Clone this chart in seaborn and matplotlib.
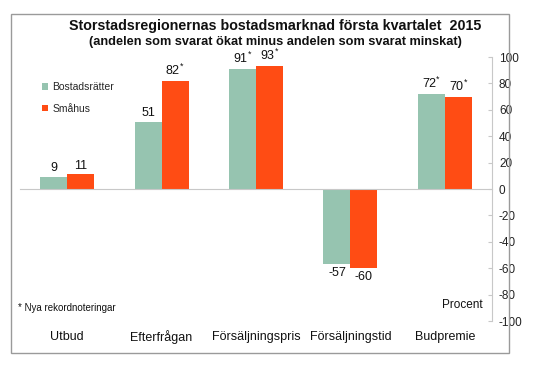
import matplotlib
matplotlib.use("Agg")
import matplotlib.pyplot as plt
import matplotlib.transforms as mtransforms
from matplotlib.patches import Rectangle
import seaborn as sns
import pandas as pd

categories = ["Utbud", "Efterfrågan", "Försäljningspris", "Försäljningstid", "Budpremie"]
series_names = ["Bostadsrätter", "Småhus"]
bostadsratter = [9, 51, 91, -57, 72]
smahus = [11, 82, 93, -60, 70]
bostadsratter_record = [False, False, True, False, True]
smahus_record = [False, True, True, False, True]
yticks = [-100, -80, -60, -40, -20, 0, 20, 40, 60, 80, 100]

colors = {"Bostadsrätter": "#96C4B0", "Småhus": "#FF4C14"}

sns.set_theme(style="white")
plt.rcParams["font.family"] = ["Liberation Sans", "DejaVu Sans"]
plt.rcParams["mathtext.fontset"] = "custom"
plt.rcParams["mathtext.rm"] = "Liberation Sans"

df = pd.DataFrame({
    "Kategori": categories * 2,
    "Serie": [series_names[0]] * len(categories) + [series_names[1]] * len(categories),
    "Värde": bostadsratter + smahus,
})

fig = plt.figure(figsize=(5.45, 3.65), dpi=100)
ax = fig.add_axes([20 / 545, 1 - 321 / 365, 472 / 545, 264 / 365])

sns.barplot(data=df, x="Kategori", y="Värde", hue="Serie", order=categories,
            hue_order=series_names, palette=colors, width=0.57, gap=0,
            saturation=1, linewidth=0, ax=ax, legend=True)

ax.set_xlim(-0.5, len(categories) - 0.5)
ax.set_ylim(-100, 100)
ax.set_xlabel("")
ax.set_ylabel("")

# spines
for s in ["top", "left"]:
    ax.spines[s].set_visible(False)
ax.spines["right"].set_visible(True)
ax.spines["right"].set_color("#C8C8C8")
ax.spines["right"].set_linewidth(0.8)
ax.spines["bottom"].set_position(("data", 0))
ax.spines["bottom"].set_color("#C8C8C8")
ax.spines["bottom"].set_linewidth(0.8)

# y axis on right
ax.yaxis.tick_right()
ax.set_yticks(yticks)
ax.set_yticklabels([str(v) for v in yticks])
ax.tick_params(axis="y", direction="in", length=3, width=0.8, color="#C8C8C8",
               pad=5, labelsize=8.5, labelcolor="#222222")

# x ticks at category boundaries
bounds = [i - 0.5 for i in range(len(categories) + 1)]
ax.set_xticks(bounds)
ax.set_xticklabels([""] * len(bounds))
ax.tick_params(axis="x", direction="inout", length=6, width=0.8, color="#C8C8C8")

# category labels below plot
trans = mtransforms.blended_transform_factory(ax.transData, ax.transAxes)
for i, c in enumerate(categories):
    ax.text(i, -0.062, c, transform=trans, ha="center", va="center",
            fontsize=9, color="#111111")

# value labels
def fmt(v, rec):
    return f"{v}" + (r"$^{\mathrm{*}}$" if rec else "")

containers = ax.containers
for cont, vals, recs in zip(containers, [bostadsratter, smahus],
                            [bostadsratter_record, smahus_record]):
    ax.bar_label(cont, labels=[fmt(v, r) for v, r in zip(vals, recs)],
                 padding=2, fontsize=9, color="#111111")

# legend
leg = ax.legend(loc="upper left", bbox_to_anchor=(38 / 545, 1 - 78 / 365),
                bbox_transform=fig.transFigure, frameon=False, fontsize=7.5,
                handlelength=0.6, handleheight=0.6, handletextpad=0.4,
                labelspacing=1.1, borderaxespad=0)

# titles
fig.text(0.505, 1 - 26 / 365, "Storstadsregionernas bostadsmarknad första kvartalet  2015",
         ha="center", va="center", fontsize=10.3, fontweight="bold", color="#111111")
fig.text(0.505, 1 - 42 / 365, "(andelen som svarat ökat minus andelen som svarat minskat)",
         ha="center", va="center", fontsize=9.2, fontweight="bold", color="#111111")

# footnote and unit
fig.text(18 / 545, 1 - 308 / 365, "* Nya rekordnoteringar", ha="left", va="center",
         fontsize=7, color="#111111")
fig.text(483 / 545, 1 - 305 / 365, "Procent", ha="right", va="center",
         fontsize=8.5, color="#111111")

# outer frame
fig.patches.append(Rectangle((11 / 545, 1 - 353 / 365), 498 / 545, 339 / 365,
                             transform=fig.transFigure, fill=False,
                             edgecolor="#9A9A9A", linewidth=1.0))

fig.savefig("out.png", dpi=100)
